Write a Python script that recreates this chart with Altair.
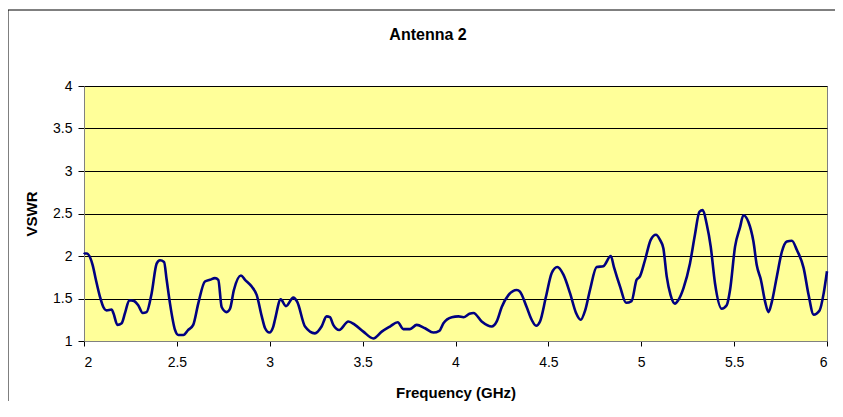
import altair as alt
import pandas as pd

freq = [2.0, 2.005, 2.015, 2.047, 2.064, 2.086, 2.104, 2.122, 2.149, 2.158, 2.180, 2.203, 2.221, 2.244,
        2.269, 2.292, 2.316, 2.337, 2.364, 2.391, 2.409, 2.431, 2.445, 2.463, 2.490, 2.508, 2.535, 2.561,
        2.588, 2.615, 2.651, 2.678, 2.705, 2.723, 2.741, 2.768, 2.786, 2.807, 2.845, 2.867, 2.903, 2.930,
        2.957, 2.975, 2.998, 3.019, 3.028, 3.059, 3.087, 3.127, 3.148, 3.190, 3.243, 3.279, 3.306, 3.324,
        3.342, 3.374, 3.423, 3.459, 3.504, 3.558, 3.603, 3.647, 3.689, 3.719, 3.755, 3.791, 3.836, 3.881,
        3.913, 3.935, 3.980, 4.016, 4.043, 4.075, 4.097, 4.141, 4.195, 4.222, 4.249, 4.285, 4.330, 4.347,
        4.383, 4.410, 4.434, 4.455, 4.487, 4.518, 4.548, 4.581, 4.617, 4.649, 4.674, 4.698, 4.724, 4.760,
        4.796, 4.836, 4.853, 4.886, 4.918, 4.948, 4.975, 4.993, 5.020, 5.051, 5.079, 5.101, 5.119, 5.137,
        5.158, 5.181, 5.199, 5.227, 5.262, 5.289, 5.313, 5.331, 5.352, 5.374, 5.397, 5.433, 5.460, 5.478,
        5.505, 5.532, 5.550, 5.577, 5.604, 5.622, 5.644, 5.667, 5.685, 5.703, 5.730, 5.757, 5.784, 5.811,
        5.838, 5.874, 5.901, 5.928, 5.960, 5.982, 6.0]
vswr = [2.02, 2.03, 2.03, 1.89, 1.72, 1.52, 1.40, 1.36, 1.37, 1.33, 1.19, 1.21, 1.33, 1.48,
        1.47, 1.42, 1.33, 1.34, 1.56, 1.91, 1.95, 1.93, 1.72, 1.44, 1.13, 1.07, 1.07, 1.13,
        1.19, 1.44, 1.70, 1.72, 1.74, 1.72, 1.40, 1.34, 1.38, 1.60, 1.77, 1.72, 1.64, 1.54,
        1.29, 1.15, 1.10, 1.17, 1.25, 1.49, 1.41, 1.51, 1.46, 1.17, 1.09, 1.17, 1.29, 1.28,
        1.19, 1.13, 1.23, 1.19, 1.11, 1.03, 1.11, 1.17, 1.22, 1.14, 1.14, 1.19, 1.15, 1.10,
        1.12, 1.21, 1.28, 1.29, 1.28, 1.32, 1.33, 1.23, 1.17, 1.23, 1.40, 1.54, 1.60, 1.58,
        1.40, 1.25, 1.18, 1.23, 1.52, 1.80, 1.87, 1.78, 1.56, 1.33, 1.25, 1.36, 1.60, 1.87,
        1.88, 2.00, 1.87, 1.64, 1.45, 1.47, 1.72, 1.76, 1.95, 2.19, 2.25, 2.19, 2.09, 1.76,
        1.54, 1.44, 1.48, 1.62, 1.91, 2.25, 2.52, 2.54, 2.38, 2.11, 1.68, 1.38, 1.42, 1.60,
        2.11, 2.34, 2.48, 2.40, 2.17, 1.89, 1.72, 1.46, 1.34, 1.46, 1.76, 2.05, 2.17, 2.18,
        2.07, 1.86, 1.54, 1.31, 1.36, 1.56, 1.82]

x_ticks = [2, 2.5, 3, 3.5, 4, 4.5, 5, 5.5, 6]
y_ticks = [1, 1.5, 2, 2.5, 3, 3.5, 4]
chart_title = "Antenna 2"

df = pd.DataFrame({"f": freq, "v": vswr})
FONT = "Liberation Sans"
one = pd.DataFrame({"a": [0]})

frame_top = alt.Chart(one).mark_rule(color="#000000", strokeWidth=1).encode(
    x=alt.value(-76), x2=alt.value(751), y=alt.value(-76)
)
frame_left = alt.Chart(one).mark_rule(color="#000000", strokeWidth=1).encode(
    x=alt.value(-76), y=alt.value(-76), y2=alt.value(315)
)

title = alt.Chart(one).mark_text(
    font=FONT, fontSize=16, fontWeight="bold", color="#000000",
    align="center", baseline="middle"
).encode(
    x=alt.value(344), y=alt.value(-51), text=alt.value(chart_title)
)

line = alt.Chart(df).mark_line(color="#000080", strokeWidth=2.6, interpolate="monotone").encode(
    x=alt.X("f:Q", scale=alt.Scale(domain=[2, 6], nice=False),
            axis=alt.Axis(values=x_ticks, title="Frequency (GHz)", grid=False,
                          tickSize=5, labelPadding=9, labelFontSize=14,
                          titleX=371.5, titleY=51, titleBaseline="middle",
                          titleFontSize=15, format="~g")),
    y=alt.Y("v:Q", scale=alt.Scale(domain=[1, 4], nice=False),
            axis=alt.Axis(values=y_ticks, title="VSWR", grid=True,
                          tickSize=6, labelPadding=6, labelFontSize=14,
                          titleX=-53, titleY=127.5, titleBaseline="middle",
                          titleAlign="center", titleAngle=270,
                          titleFontSize=15, format="~g")),
)

chart = alt.layer(frame_top, frame_left, line, title).properties(
    width=743, height=255,
    autosize=alt.AutoSizeParams(type="none"),
    padding={"left": 76, "top": 78, "right": 8, "bottom": 60},
).configure_view(
    fill="#FFFF99", stroke="#808080", strokeWidth=1
).configure_axis(
    labelFont=FONT, titleFont=FONT, labelColor="#000000", titleColor="#000000",
    titleFontWeight="bold", domainColor="#808080", tickColor="#000000",
    gridColor="#000000", gridOpacity=1, gridWidth=1, domainWidth=1,
)

chart.save("out.html", embed_options={"renderer": "svg", "actions": False})
